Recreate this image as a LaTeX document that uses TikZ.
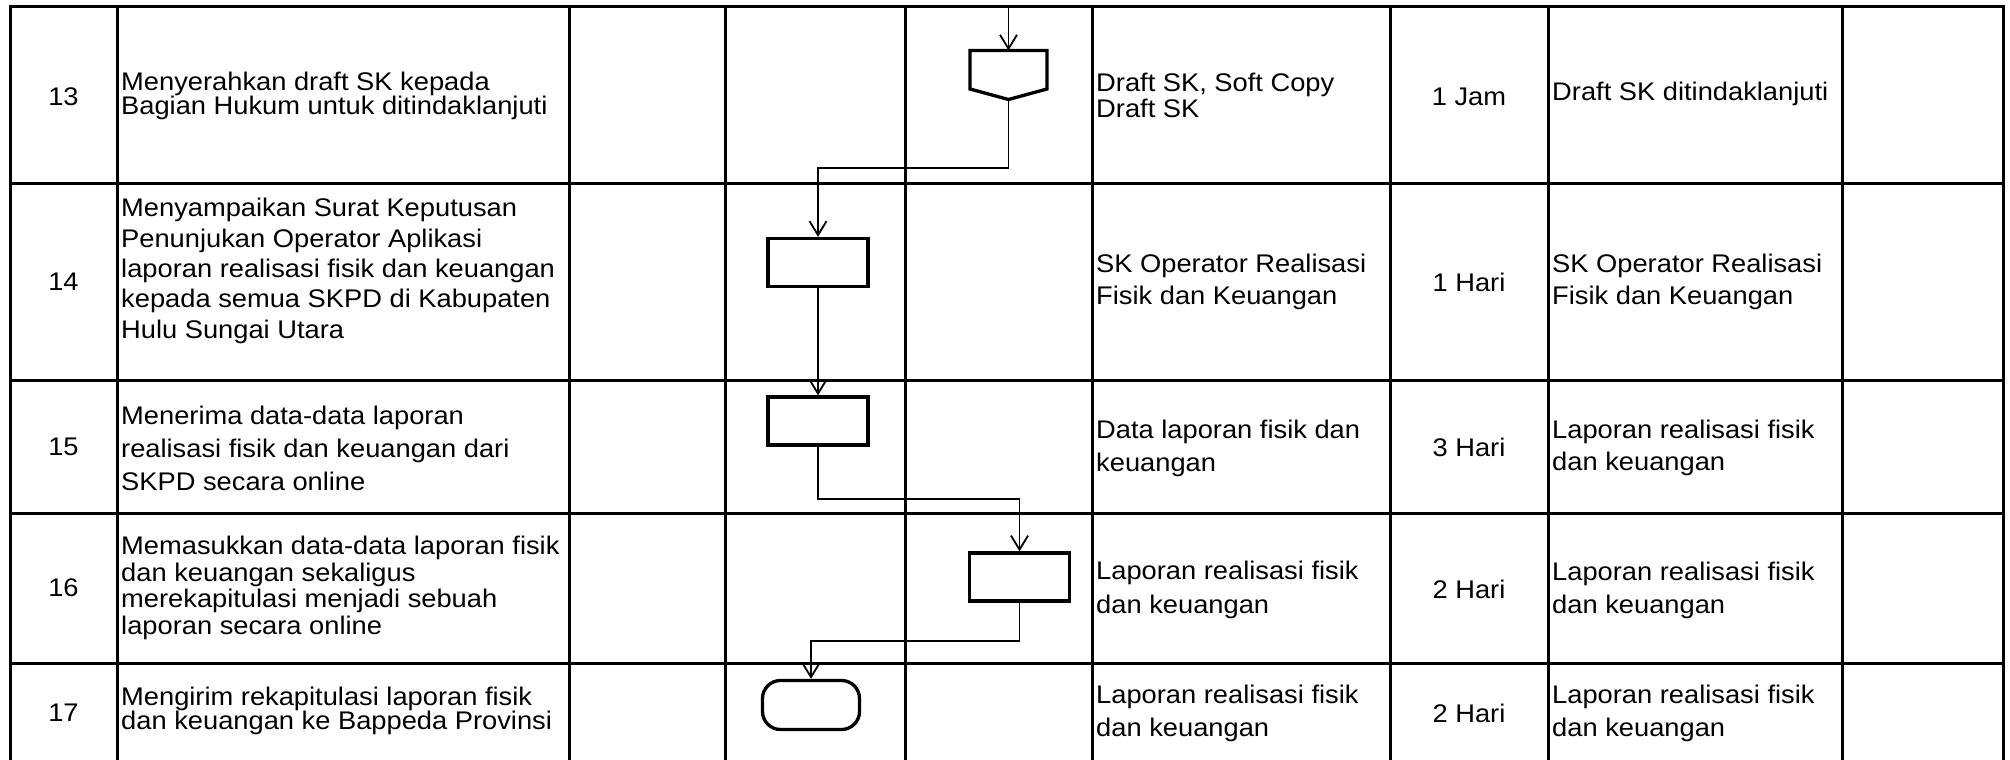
\documentclass[tikz,border=0pt]{standalone}
\usepackage{fontspec}
\setmainfont{Liberation Sans}[FakeStretch=1.07]
\usetikzlibrary{arrows.meta,calc}
\newcommand{\cf}[1]{\fontsize{25.5pt}{#1pt}\selectfont}
\begin{document}
\begin{tikzpicture}[x=1pt,y=-1pt,
  tbl/.style={line width=3pt},
  shp/.style={draw, line width=3.3pt, minimum width=100pt, minimum height=48pt, inner sep=0pt},
  conn/.style={line width=1.8pt, line join=miter, -{Straight Barb[length=14pt,width=17pt]}},
  txt/.style={anchor=west, align=left, inner sep=0pt},
  ctr/.style={align=center, inner sep=0pt, font=\cf{30}}]
\useasboundingbox (0,0) rectangle (2010,760);
% table grid
\foreach \x in {10,117,569,725,905,1092,1390,1548,1842,2003}
  \draw[tbl] (\x,5.5) -- (\x,764);
\foreach \y in {7,183,380,513,663}
  \draw[tbl,line cap=rect] (10,\y) -- (2003,\y);
% numbers
\node[ctr] (n13) at (63.5,97) {13};
\node[ctr] (n14) at (63.5,282) {14};
\node[ctr] (n15) at (63.5,447) {15};
\node[ctr] (n16) at (63.5,588) {16};
\node[ctr] (n17) at (63.5,713) {17};
% activity descriptions
\node[txt,font=\cf{22.5}] (d13) at (121,96) {Menyerahkan draft SK kepada\\Bagian Hukum untuk ditindaklanjuti};
\node[txt,font=\cf{30.4}] (d14) at (121,271) {Menyampaikan Surat Keputusan\\Penunjukan Operator Aplikasi\\laporan realisasi fisik dan keuangan\\kepada semua SKPD di Kabupaten\\Hulu Sungai Utara};
\node[txt,font=\cf{33}] (d15) at (121,448) {Menerima data-data laporan\\realisasi fisik dan keuangan dari\\SKPD secara online};
\node[txt,font=\cf{26.7}] (d16) at (121,588) {Memasukkan data-data laporan fisik\\dan keuangan sekaligus\\merekapitulasi menjadi sebuah\\laporan secara online};
\node[txt,font=\cf{23}] (d17) at (121,711) {Mengirim rekapitulasi laporan fisik\\dan keuangan ke Bappeda Provinsi};
% documents
\node[txt,font=\cf{26}] (o13) at (1096,95) {Draft SK, Soft Copy\\Draft SK};
\node[txt,font=\cf{32}] (o14) at (1096,282) {SK Operator Realisasi\\Fisik dan Keuangan};
\node[txt,font=\cf{33}] (o15) at (1096,448) {Data laporan fisik dan\\keuangan};
\node[txt,font=\cf{34}] (o16) at (1096,590) {Laporan realisasi fisik\\dan keuangan};
\node[txt,font=\cf{33}] (o17) at (1096,713) {Laporan realisasi fisik\\dan keuangan};
% time
\node[ctr] (t13) at (1469,97) {1 Jam};
\node[ctr] (t14) at (1469,282) {1 Hari};
\node[ctr] (t15) at (1469,447) {3 Hari};
\node[ctr] (t16) at (1469,589) {2 Hari};
\node[ctr] (t17) at (1469,713) {2 Hari};
% outputs
\node[txt,font=\cf{30}] (r13) at (1552,94) {Draft SK ditindaklanjuti};
\node[txt,font=\cf{32}] (r14) at (1552,282) {SK Operator Realisasi\\Fisik dan Keuangan};
\node[txt,font=\cf{32}] (r15) at (1552,448) {Laporan realisasi fisik\\dan keuangan};
\node[txt,font=\cf{33}] (r16) at (1552,590) {Laporan realisasi fisik\\dan keuangan};
\node[txt,font=\cf{33}] (r17) at (1552,713) {Laporan realisasi fisik\\dan keuangan};
% flow shapes
\node[inner sep=0pt, outer sep=0pt, minimum width=77pt, minimum height=38.5pt] (p13) at (1008.5,69.75) {};
\coordinate (p13tip) at ($(p13.south)+(0,10.5)$);
\draw[line width=3.3pt, line join=miter] (p13.north west) -- (p13.north east) -- (p13.south east) -- (p13tip) -- (p13.south west) -- cycle;
\node[shp] (s14) at (818,262.5) {};
\node[shp] (s15) at (818,421) {};
\node[shp] (s16) at (1019.5,577) {};
\node[shp, rounded corners=18pt, minimum width=97pt, minimum height=49pt] (s17) at (811,705) {};
% connectors
\coordinate (top13) at (1008.5,7);
\coordinate (b1) at (0,168);
\coordinate (b3) at (0,499);
\coordinate (b4) at (0,641);
\draw[conn] (top13) -- (p13.north);
\draw[conn] (p13tip) -- (p13tip |- b1) -| (s14.north);
\draw[conn] (s14.south) -- (s15.north);
\draw[conn] (s15.south) -- (s15.south |- b3) -| (s16.north);
\draw[conn] (s16.south) -- (s16.south |- b4) -| (s17.north);
\end{tikzpicture}
\end{document}
